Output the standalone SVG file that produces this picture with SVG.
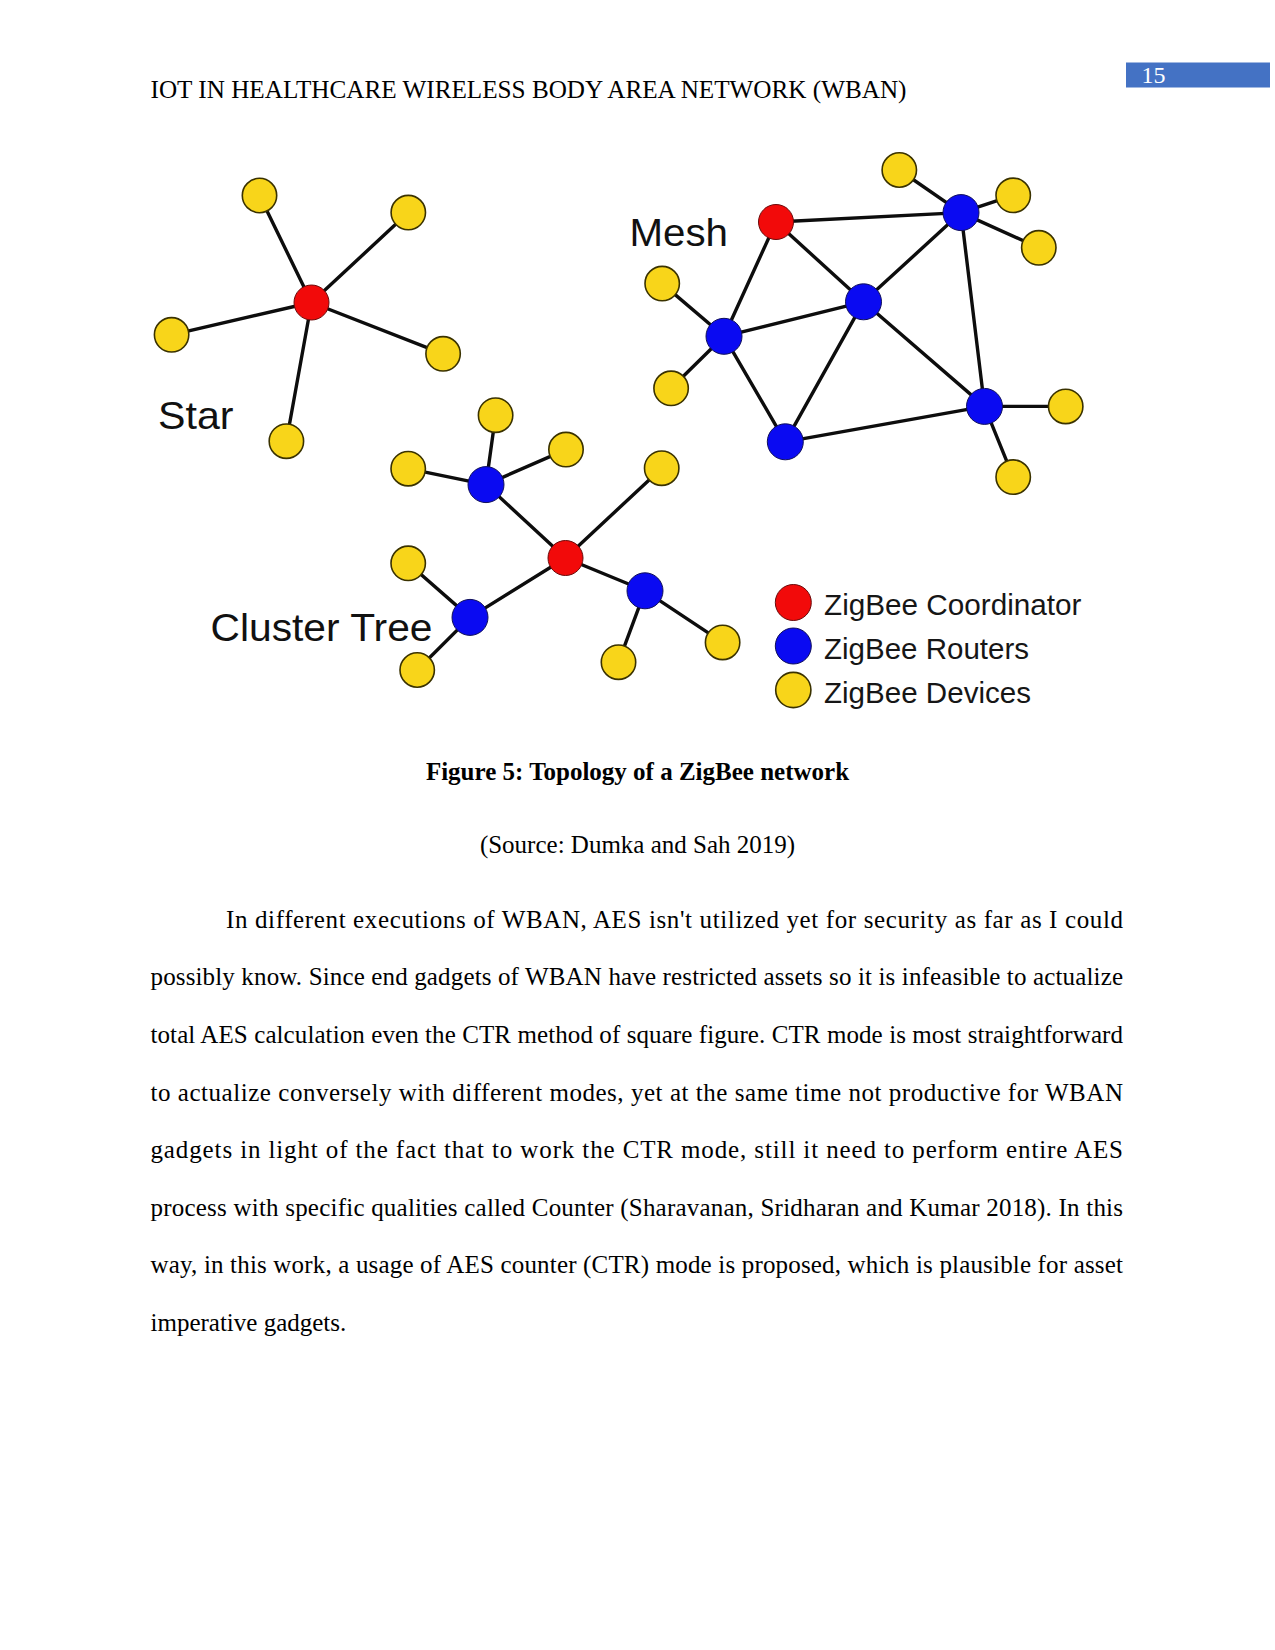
<svg xmlns="http://www.w3.org/2000/svg" width="1275" height="1650" viewBox="0 0 1275 1650">
<style>
.dev{fill:#F8D51A;stroke:#3a3200;stroke-width:1.6}
.rtr{fill:#0A0AF2;stroke:#10105a;stroke-width:1}
.crd{fill:#F20A0A;stroke:#6a0a0a;stroke-width:1}
.edge{stroke:#0d0d0d;stroke-width:3.4;fill:none;stroke-linecap:round}
.lbl{font-family:"Liberation Sans",Arial,sans-serif;fill:#111}
.leg{font-family:"Liberation Sans",Arial,sans-serif;font-size:29.5px;fill:#161616}
.ser{font-family:"Liberation Serif","Times New Roman",serif;font-size:25px;fill:#000}
</style>
<rect width="1275" height="1650" fill="#fff"/>

<g id="header">
<text class="ser" x="150.5" y="97.5" textLength="756" lengthAdjust="spacingAndGlyphs">IOT IN HEALTHCARE WIRELESS BODY AREA NETWORK (WBAN)</text>
<rect x="1126" y="62.5" width="144" height="25" fill="#4472C4"/>
<text class="ser" x="1141.5" y="83" style="fill:#fff;font-size:24px">15</text>
</g>

<g id="connectors">
<!-- star -->
<line class="edge" x1="311.5" y1="302.5" x2="259.5" y2="195.5"/>
<line class="edge" x1="311.5" y1="302.5" x2="408.3" y2="212.6"/>
<line class="edge" x1="311.5" y1="302.5" x2="171.6" y2="334.8"/>
<line class="edge" x1="311.5" y1="302.5" x2="443.1" y2="353.8"/>
<line class="edge" x1="311.5" y1="302.5" x2="286.4" y2="441.2"/>
<!-- mesh -->
<line class="edge" x1="776" y1="222" x2="961" y2="212.6"/>
<line class="edge" x1="776" y1="222" x2="863.5" y2="301.8"/>
<line class="edge" x1="776" y1="222" x2="724" y2="336.3"/>
<line class="edge" x1="961" y1="212.6" x2="863.5" y2="301.8"/>
<line class="edge" x1="961" y1="212.6" x2="984.5" y2="406.4"/>
<line class="edge" x1="863.5" y1="301.8" x2="724" y2="336.3"/>
<line class="edge" x1="863.5" y1="301.8" x2="785.3" y2="441.8"/>
<line class="edge" x1="863.5" y1="301.8" x2="984.5" y2="406.4"/>
<line class="edge" x1="724" y1="336.3" x2="785.3" y2="441.8"/>
<line class="edge" x1="785.3" y1="441.8" x2="984.5" y2="406.4"/>
<line class="edge" x1="961" y1="212.6" x2="899.3" y2="170"/>
<line class="edge" x1="961" y1="212.6" x2="1013.2" y2="195.3"/>
<line class="edge" x1="961" y1="212.6" x2="1038.8" y2="247.8"/>
<line class="edge" x1="724" y1="336.3" x2="662.2" y2="283.6"/>
<line class="edge" x1="724" y1="336.3" x2="671.1" y2="388.3"/>
<line class="edge" x1="984.5" y1="406.4" x2="1065.7" y2="406.4"/>
<line class="edge" x1="984.5" y1="406.4" x2="1013.2" y2="477.1"/>
<!-- cluster tree -->
<line class="edge" x1="565.5" y1="558" x2="486" y2="484.6"/>
<line class="edge" x1="565.5" y1="558" x2="661.7" y2="468.2"/>
<line class="edge" x1="565.5" y1="558" x2="645" y2="590.8"/>
<line class="edge" x1="565.5" y1="558" x2="470" y2="617.4"/>
<line class="edge" x1="486" y1="484.6" x2="495.6" y2="415.2"/>
<line class="edge" x1="486" y1="484.6" x2="408.2" y2="468.7"/>
<line class="edge" x1="486" y1="484.6" x2="566" y2="449.6"/>
<line class="edge" x1="470" y1="617.4" x2="408.2" y2="563.3"/>
<line class="edge" x1="470" y1="617.4" x2="417.2" y2="670"/>
<line class="edge" x1="645" y1="590.8" x2="618.5" y2="662.2"/>
<line class="edge" x1="645" y1="590.8" x2="722.6" y2="642.4"/>
</g>

<g id="star-coordinator"><circle class="crd" cx="311.5" cy="302.5" r="17.5"/></g>
<g id="star-device-1"><circle class="dev" cx="259.5" cy="195.5" r="17.2"/></g>
<g id="star-device-2"><circle class="dev" cx="408.3" cy="212.6" r="17.2"/></g>
<g id="star-device-3"><circle class="dev" cx="171.6" cy="334.8" r="17.2"/></g>
<g id="star-device-4"><circle class="dev" cx="443.1" cy="353.8" r="17.2"/></g>
<g id="star-device-5"><circle class="dev" cx="286.4" cy="441.2" r="17.2"/></g>
<g id="star-label"><text class="lbl" x="158" y="429" font-size="39.5" textLength="75.5" lengthAdjust="spacingAndGlyphs">Star</text></g>

<g id="mesh-coordinator"><circle class="crd" cx="776" cy="222" r="17.5"/></g>
<g id="mesh-router-tr"><circle class="rtr" cx="961" cy="212.6" r="18"/></g>
<g id="mesh-router-c"><circle class="rtr" cx="863.5" cy="301.8" r="18"/></g>
<g id="mesh-router-l"><circle class="rtr" cx="724" cy="336.3" r="18"/></g>
<g id="mesh-router-b"><circle class="rtr" cx="785.3" cy="441.8" r="18"/></g>
<g id="mesh-router-rb"><circle class="rtr" cx="984.5" cy="406.4" r="18"/></g>
<g id="mesh-device-1"><circle class="dev" cx="899.3" cy="170" r="17.2"/></g>
<g id="mesh-device-2"><circle class="dev" cx="1013.2" cy="195.3" r="17.2"/></g>
<g id="mesh-device-3"><circle class="dev" cx="1038.8" cy="247.8" r="17.2"/></g>
<g id="mesh-device-4"><circle class="dev" cx="662.2" cy="283.6" r="17.2"/></g>
<g id="mesh-device-5"><circle class="dev" cx="671.1" cy="388.3" r="17.2"/></g>
<g id="mesh-device-6"><circle class="dev" cx="1065.7" cy="406.4" r="17.2"/></g>
<g id="mesh-device-7"><circle class="dev" cx="1013.2" cy="477.1" r="17.2"/></g>
<g id="mesh-label"><text class="lbl" x="629.5" y="245.5" font-size="39.5" textLength="98.5" lengthAdjust="spacingAndGlyphs">Mesh</text></g>

<g id="tree-coordinator"><circle class="crd" cx="565.5" cy="558" r="17.5"/></g>
<g id="tree-router-top"><circle class="rtr" cx="486" cy="484.6" r="18"/></g>
<g id="tree-router-left"><circle class="rtr" cx="470" cy="617.4" r="18"/></g>
<g id="tree-router-right"><circle class="rtr" cx="645" cy="590.8" r="18"/></g>
<g id="tree-device-1"><circle class="dev" cx="495.6" cy="415.2" r="17.2"/></g>
<g id="tree-device-2"><circle class="dev" cx="408.2" cy="468.7" r="17.2"/></g>
<g id="tree-device-3"><circle class="dev" cx="566" cy="449.6" r="17.2"/></g>
<g id="tree-device-4"><circle class="dev" cx="661.7" cy="468.2" r="17.2"/></g>
<g id="tree-device-5"><circle class="dev" cx="408.2" cy="563.3" r="17.2"/></g>
<g id="tree-device-6"><circle class="dev" cx="417.2" cy="670" r="17.2"/></g>
<g id="tree-device-7"><circle class="dev" cx="618.5" cy="662.2" r="17.2"/></g>
<g id="tree-device-8"><circle class="dev" cx="722.6" cy="642.4" r="17.2"/></g>
<g id="tree-label"><text class="lbl" x="210.5" y="640.5" font-size="39" textLength="222" lengthAdjust="spacingAndGlyphs">Cluster Tree</text></g>

<g id="legend">
<circle class="crd" cx="793.3" cy="602.5" r="18"/>
<circle class="rtr" cx="793.3" cy="646" r="18"/>
<circle class="dev" cx="793.3" cy="690" r="17.6"/>
<text class="leg" x="824" y="614.5" textLength="257.5" lengthAdjust="spacingAndGlyphs">ZigBee Coordinator</text>
<text class="leg" x="824" y="658.5" textLength="205" lengthAdjust="spacingAndGlyphs">ZigBee Routers</text>
<text class="leg" x="824" y="702.5" textLength="207" lengthAdjust="spacingAndGlyphs">ZigBee Devices</text>
</g>

<g id="caption">
<text class="ser" x="637.5" y="779.5" text-anchor="middle" font-weight="bold">Figure 5: Topology of a ZigBee network</text>
<text class="ser" x="637.5" y="853" text-anchor="middle">(Source: Dumka and Sah 2019)</text>
</g>

<g id="body">
<text class="ser" x="226" y="927.8" textLength="897" lengthAdjust="spacing">In different executions of WBAN, AES isn't utilized yet for security as far as I could</text>
<text class="ser" x="150.5" y="985.4" textLength="972.5" lengthAdjust="spacing">possibly know. Since end gadgets of WBAN have restricted assets so it is infeasible to actualize</text>
<text class="ser" x="150.5" y="1042.9" textLength="972.5" lengthAdjust="spacing">total AES calculation even the CTR method of square figure. CTR mode is most straightforward</text>
<text class="ser" x="150.5" y="1100.5" textLength="972.5" lengthAdjust="spacing">to actualize conversely with different modes, yet at the same time not productive for WBAN</text>
<text class="ser" x="150.5" y="1158" textLength="972.5" lengthAdjust="spacing">gadgets in light of the fact that to work the CTR mode, still it need to perform entire AES</text>
<text class="ser" x="150.5" y="1215.6" textLength="972.5" lengthAdjust="spacing">process with specific qualities called Counter (Sharavanan, Sridharan and Kumar 2018). In this</text>
<text class="ser" x="150.5" y="1273.1" textLength="972.5" lengthAdjust="spacing">way, in this work, a usage of AES counter (CTR) mode is proposed, which is plausible for asset</text>
<text class="ser" x="150.5" y="1330.7">imperative gadgets.</text>
</g>
</svg>
